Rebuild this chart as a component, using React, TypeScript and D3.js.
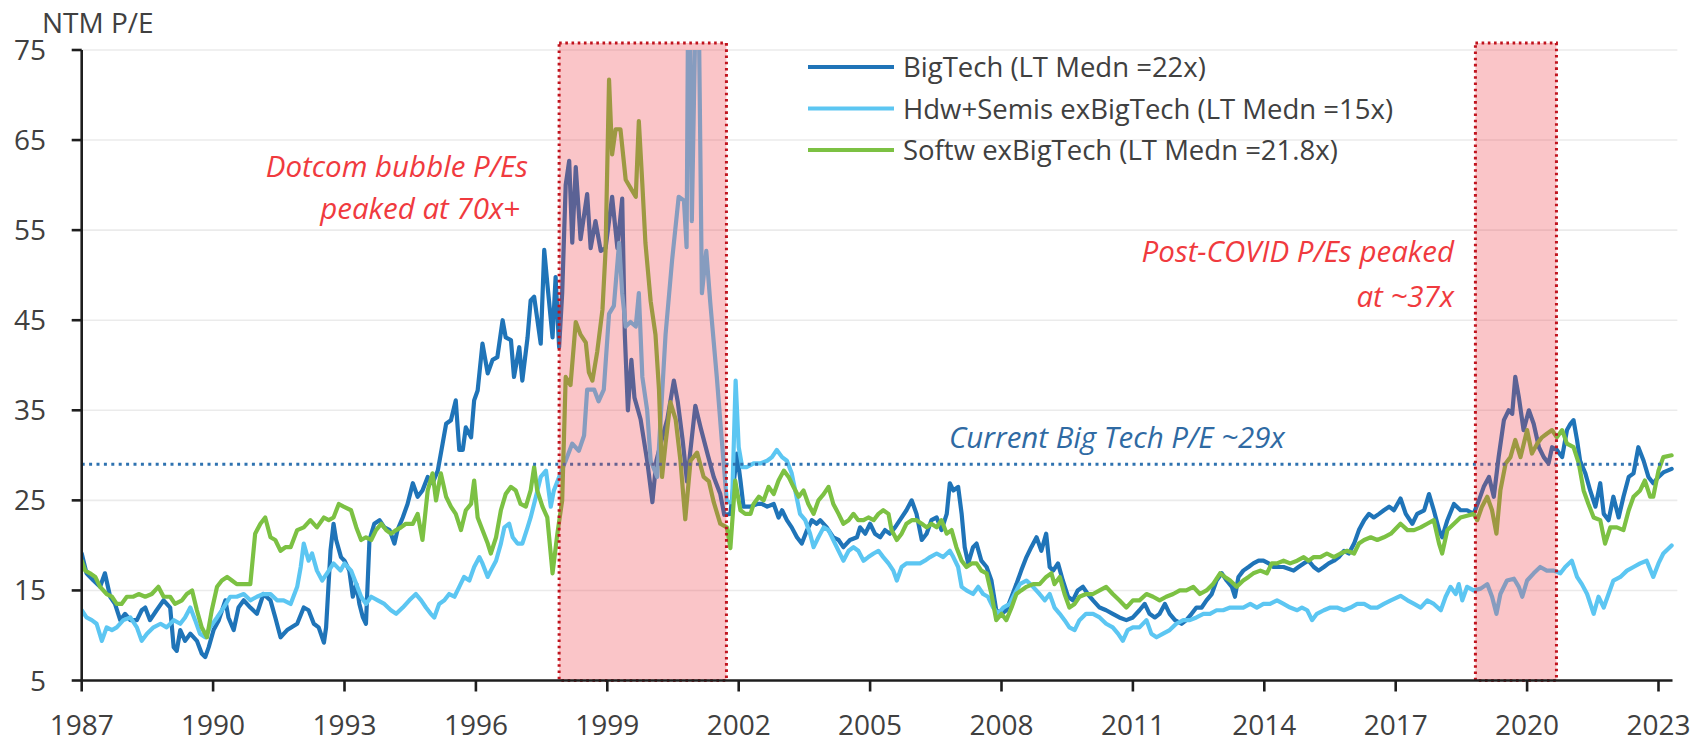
import React from 'react';
import * as d3 from 'd3';

type Pt = [number, number];

const W = 1707;
const H = 745;

const yearTicks = [1987, 1990, 1993, 1996, 1999, 2002, 2005, 2008, 2011, 2014, 2017, 2020, 2023];
const peTicks = [5, 15, 25, 35, 45, 55, 65, 75];
const seriesNames = [
  'BigTech (LT Medn =22x)',
  'Hdw+Semis exBigTech (LT Medn =15x)',
  'Softw exBigTech (LT Medn =21.8x)',
];
const seriesColors = ['#1f74b8', '#5cc6f2', '#7cc143'];
const currentBigTechPE = 29;
const shadedPeriods: Pt[] = [
  [1997.9, 2001.72],
  [2018.82, 2020.67],
];
const dotcomNote = ['Dotcom bubble P/Es', 'peaked at 70x+'];
const covidNote = ['Post-COVID P/Es peaked', 'at ~37x'];
const currentNote = 'Current Big Tech P/E ~29x';
const yTitle = 'NTM P/E';

const bigTech: Pt[] = [
  [1987.00, 19.1], [1987.11, 16.9], [1987.27, 16.1], [1987.42, 15.4], [1987.53, 16.9], [1987.65, 14.3], [1987.76, 13.5], [1987.88, 11.7], [1987.99, 12.4], [1988.11, 11.7], [1988.26, 11.7], [1988.37, 12.8], [1988.45, 13.1], [1988.56, 11.7], [1988.71, 12.8], [1988.87, 13.9], [1989.02, 13.1], [1989.10, 8.7], [1989.17, 8.3], [1989.25, 10.6], [1989.36, 9.4], [1989.48, 10.2], [1989.63, 9.4], [1989.74, 8.0], [1989.82, 7.6], [1989.90, 8.7], [1990.01, 10.6], [1990.13, 11.7], [1990.28, 13.9], [1990.35, 12.0], [1990.47, 10.6], [1990.58, 13.1], [1990.70, 13.9], [1990.85, 13.1], [1991.00, 12.4], [1991.15, 14.6], [1991.31, 13.9], [1991.42, 12.0], [1991.54, 9.8], [1991.69, 10.6], [1991.92, 11.3], [1992.07, 13.1], [1992.18, 12.8], [1992.30, 11.3], [1992.41, 10.9], [1992.53, 9.2], [1992.58, 10.9], [1992.68, 19.4], [1992.75, 22.4], [1992.81, 20.6], [1992.92, 18.7], [1993.00, 18.3], [1993.11, 17.2], [1993.19, 14.3], [1993.27, 15.7], [1993.34, 13.5], [1993.42, 12.0], [1993.49, 11.3], [1993.57, 20.6], [1993.68, 22.4], [1993.80, 22.8], [1993.91, 22.0], [1994.03, 21.7], [1994.14, 20.2], [1994.21, 21.7], [1994.33, 23.1], [1994.44, 24.6], [1994.56, 26.9], [1994.67, 25.4], [1994.78, 26.1], [1994.90, 27.6], [1995.01, 26.9], [1995.13, 28.3], [1995.24, 31.3], [1995.32, 33.5], [1995.43, 33.9], [1995.54, 36.1], [1995.62, 30.6], [1995.70, 30.6], [1995.77, 33.1], [1995.89, 32.0], [1995.96, 36.1], [1996.04, 37.2], [1996.15, 42.4], [1996.27, 39.1], [1996.38, 40.6], [1996.49, 40.9], [1996.61, 45.0], [1996.68, 43.1], [1996.80, 42.8], [1996.87, 38.7], [1996.99, 42.0], [1997.06, 38.3], [1997.18, 43.1], [1997.25, 47.2], [1997.33, 47.6], [1997.48, 42.4], [1997.56, 52.8], [1997.63, 49.1], [1997.75, 43.1], [1997.82, 49.8], [1997.90, 42.0],
  [1997.97, 48.0], [1998.05, 60.0], [1998.13, 62.7], [1998.20, 53.6], [1998.28, 62.0], [1998.39, 54.0], [1998.54, 59.0], [1998.62, 53.0], [1998.73, 56.0], [1998.85, 52.7], [1998.96, 53.0], [1999.11, 58.7], [1999.23, 53.0], [1999.34, 58.5], [1999.40, 43.4], [1999.47, 35.0], [1999.55, 40.6], [1999.62, 36.4], [1999.76, 34.0], [1999.91, 29.4], [2000.03, 24.8], [2000.12, 29.4], [2000.24, 31.7], [2000.37, 34.0], [2000.52, 38.3], [2000.61, 35.9], [2000.72, 31.7], [2000.82, 27.1], [2001.01, 35.5], [2001.13, 33.1], [2001.28, 30.3], [2001.43, 27.6], [2001.58, 25.7], [2001.67, 23.4], [2001.81, 23.5], [2001.96, 30.2], [2002.04, 27.2],
  [2002.11, 24.3], [2002.27, 24.3], [2002.42, 24.6], [2002.53, 24.6], [2002.65, 24.3], [2002.80, 24.6], [2002.91, 23.1], [2002.99, 23.9], [2003.10, 22.8], [2003.21, 22.0], [2003.33, 20.9], [2003.44, 20.2], [2003.56, 21.7], [2003.67, 22.8], [2003.78, 22.4], [2003.86, 22.8], [2004.01, 22.0], [2004.16, 20.9], [2004.28, 20.6], [2004.39, 19.8], [2004.54, 20.6], [2004.70, 20.9], [2004.77, 22.0], [2004.89, 21.3], [2005.00, 22.4], [2005.11, 21.3], [2005.23, 20.9], [2005.34, 21.7], [2005.45, 21.3], [2005.57, 22.0], [2005.68, 22.8], [2005.83, 23.9], [2005.95, 25.0], [2006.06, 23.5], [2006.18, 20.6], [2006.29, 21.3], [2006.40, 22.8], [2006.52, 23.1], [2006.63, 21.7], [2006.75, 23.5], [2006.82, 26.9], [2006.90, 26.1], [2007.01, 26.5], [2007.09, 23.5], [2007.16, 19.8], [2007.24, 18.0], [2007.35, 19.8], [2007.43, 20.2], [2007.54, 18.3], [2007.66, 17.6], [2007.77, 16.1], [2007.88, 12.8], [2008.00, 12.4], [2008.11, 12.8], [2008.23, 14.3], [2008.34, 15.7], [2008.45, 17.2], [2008.57, 18.7], [2008.68, 19.8], [2008.80, 20.9], [2008.91, 19.4], [2009.02, 21.3], [2009.10, 17.6], [2009.18, 17.2], [2009.29, 18.0], [2009.40, 16.1], [2009.52, 14.3], [2009.63, 13.9], [2009.74, 15.0], [2009.86, 15.4], [2009.97, 14.6], [2010.09, 13.9], [2010.24, 13.1], [2010.39, 12.8], [2010.54, 12.4], [2010.69, 12.0], [2010.85, 11.7], [2011.00, 12.0],
  [2011.15, 12.8], [2011.27, 13.5], [2011.38, 12.4], [2011.50, 12.0], [2011.61, 12.4], [2011.73, 13.5], [2011.84, 12.4], [2011.96, 11.7], [2012.11, 11.3], [2012.22, 11.7], [2012.34, 12.4], [2012.45, 13.1], [2012.57, 13.1], [2012.68, 13.9], [2012.80, 14.6], [2012.91, 16.1], [2013.03, 16.9], [2013.14, 16.1], [2013.26, 15.4], [2013.33, 14.3], [2013.41, 16.5], [2013.52, 17.2], [2013.64, 17.6], [2013.75, 18.0], [2013.87, 18.3], [2013.98, 18.3], [2014.10, 18.0], [2014.21, 17.6], [2014.44, 17.6], [2014.67, 17.2], [2014.78, 17.6], [2014.90, 18.0], [2015.01, 18.3], [2015.13, 17.6], [2015.24, 17.2], [2015.36, 17.6], [2015.47, 18.0], [2015.59, 18.3], [2015.70, 18.7], [2015.82, 19.4], [2015.93, 19.1], [2016.05, 20.2], [2016.16, 21.7], [2016.28, 22.8], [2016.39, 23.5], [2016.50, 23.1], [2016.62, 23.5], [2016.73, 23.9], [2016.85, 24.3], [2016.96, 23.9],
  [2017.11, 25.2], [2017.23, 23.5], [2017.38, 22.4], [2017.49, 23.5], [2017.65, 23.9], [2017.76, 25.7], [2017.87, 23.9], [2017.99, 21.7], [2018.06, 20.9], [2018.18, 22.8], [2018.33, 24.6], [2018.48, 23.9], [2018.63, 23.9], [2018.78, 23.5], [2018.90, 25.0], [2019.01, 26.5], [2019.13, 27.6], [2019.24, 25.4], [2019.35, 29.8], [2019.47, 33.9], [2019.58, 35.0], [2019.66, 34.6], [2019.73, 38.7], [2019.81, 36.5], [2019.92, 32.8], [2020.04, 35.0], [2020.15, 33.5], [2020.27, 30.9], [2020.38, 29.8], [2020.49, 29.1], [2020.57, 30.9], [2020.68, 30.6], [2020.80, 29.8], [2020.91, 32.8], [2020.99, 33.5], [2021.06, 33.9], [2021.14, 31.7], [2021.21, 29.4], [2021.33, 28.0], [2021.44, 26.1], [2021.56, 24.3], [2021.67, 26.9], [2021.75, 23.5], [2021.86, 22.8], [2021.97, 25.4], [2022.09, 23.1], [2022.20, 25.4], [2022.32, 27.6], [2022.43, 28.0], [2022.54, 30.9], [2022.66, 29.4], [2022.77, 27.6], [2022.88, 26.9], [2023.00, 27.6], [2023.11, 28.1], [2023.30, 28.5],
];

const hdwSemis: Pt[] = [
  [1987.00, 12.8], [1987.11, 12.0], [1987.23, 11.7], [1987.34, 11.3], [1987.46, 9.4], [1987.57, 10.9], [1987.69, 10.6], [1987.80, 10.9], [1987.95, 11.7], [1988.11, 12.0], [1988.26, 10.9], [1988.37, 9.4], [1988.49, 10.2], [1988.64, 10.9], [1988.80, 11.3], [1988.94, 10.9], [1989.10, 11.7], [1989.25, 11.3], [1989.36, 12.0], [1989.48, 13.1], [1989.59, 11.7], [1989.70, 10.2], [1989.82, 9.8], [1989.93, 10.9], [1990.09, 12.0], [1990.24, 13.1], [1990.39, 14.3], [1990.54, 14.3], [1990.70, 14.6], [1990.85, 13.9], [1991.00, 14.3], [1991.15, 14.6], [1991.31, 14.6], [1991.46, 13.9], [1991.61, 13.9], [1991.77, 13.5], [1991.92, 15.4], [1992.00, 17.6], [1992.07, 20.2], [1992.18, 18.3], [1992.26, 19.1], [1992.37, 17.2], [1992.49, 16.1], [1992.60, 16.9], [1992.75, 18.0], [1992.91, 17.2],
  [1993.00, 18.0], [1993.15, 17.2], [1993.27, 15.7], [1993.38, 14.3], [1993.49, 13.5], [1993.61, 14.3], [1993.76, 13.9], [1993.91, 13.5], [1994.06, 12.8], [1994.18, 12.4], [1994.33, 13.1], [1994.48, 13.9], [1994.63, 14.6], [1994.75, 13.9], [1994.86, 13.1], [1994.97, 12.4], [1995.05, 12.0], [1995.16, 13.5], [1995.28, 13.9], [1995.39, 14.6], [1995.51, 14.3], [1995.62, 15.4], [1995.73, 16.5], [1995.85, 16.1], [1995.96, 17.6], [1996.08, 18.7], [1996.15, 18.0], [1996.27, 16.5], [1996.34, 17.2], [1996.46, 18.3], [1996.57, 20.2], [1996.65, 22.0], [1996.76, 22.4], [1996.84, 20.9], [1996.95, 20.2], [1997.06, 20.2], [1997.18, 22.0], [1997.25, 23.1], [1997.37, 25.4], [1997.48, 27.6], [1997.60, 28.3], [1997.71, 24.3], [1997.78, 26.1], [1997.90, 27.6],
  [1998.05, 29.4], [1998.20, 31.3], [1998.35, 30.5], [1998.47, 32.2], [1998.54, 37.3], [1998.70, 37.3], [1998.80, 36.0], [1998.92, 37.3], [1999.04, 45.7], [1999.15, 46.6], [1999.27, 53.6], [1999.34, 48.0], [1999.42, 44.3], [1999.53, 44.8], [1999.65, 44.3], [1999.72, 48.0], [1999.80, 38.7], [1999.91, 35.0], [1999.99, 29.4], [2000.14, 27.6], [2000.33, 43.4], [2000.48, 51.7], [2000.63, 58.7], [2000.75, 58.3], [2000.81, 53.1], [2000.86, 92.0], [2000.93, 56.0], [2001.06, 92.0], [2001.16, 48.0], [2001.26, 52.7], [2001.35, 47.0], [2001.50, 38.7], [2001.62, 31.3], [2001.73, 24.8], [2001.85, 24.8], [2001.93, 38.3], [2002.00, 30.9],
  [2002.08, 28.7], [2002.19, 28.7], [2002.34, 29.1], [2002.49, 29.1], [2002.65, 29.4], [2002.76, 29.8], [2002.87, 30.6], [2002.99, 29.8], [2003.10, 29.4], [2003.21, 28.0], [2003.29, 26.1], [2003.40, 23.5], [2003.52, 22.8], [2003.63, 21.3], [2003.71, 19.8], [2003.82, 20.9], [2003.94, 22.0], [2004.05, 21.7], [2004.16, 20.6], [2004.28, 19.4], [2004.39, 18.3], [2004.51, 19.4], [2004.62, 19.8], [2004.73, 19.4], [2004.85, 18.3], [2004.96, 18.7], [2005.08, 19.1], [2005.19, 19.4], [2005.30, 18.7], [2005.42, 18.0], [2005.53, 17.2], [2005.61, 16.1], [2005.72, 17.6], [2005.83, 18.0], [2005.99, 18.0], [2006.14, 18.0], [2006.25, 18.3], [2006.37, 18.7], [2006.52, 19.1], [2006.67, 18.7], [2006.82, 19.4], [2006.90, 18.7], [2007.01, 17.6], [2007.09, 15.4], [2007.20, 15.0], [2007.35, 14.6], [2007.47, 15.4], [2007.58, 14.6], [2007.69, 14.3], [2007.81, 13.1], [2007.92, 12.4], [2008.04, 13.1], [2008.19, 13.5], [2008.30, 14.6], [2008.42, 15.7], [2008.57, 16.1], [2008.72, 15.4], [2008.87, 14.6], [2008.99, 13.9], [2009.10, 14.6], [2009.21, 13.1], [2009.33, 12.4], [2009.44, 11.7], [2009.55, 10.9], [2009.67, 10.6], [2009.78, 11.7], [2009.93, 12.4], [2010.09, 12.4], [2010.24, 12.0], [2010.39, 11.3], [2010.54, 10.9], [2010.66, 10.2], [2010.77, 9.4], [2010.88, 10.6], [2011.00, 10.9],
  [2011.15, 10.9], [2011.31, 11.7], [2011.42, 10.2], [2011.54, 9.8], [2011.69, 10.2], [2011.84, 10.6], [2011.99, 11.3], [2012.15, 11.7], [2012.30, 11.7], [2012.45, 12.0], [2012.61, 12.4], [2012.76, 12.4], [2012.91, 12.8], [2013.06, 12.8], [2013.22, 13.1], [2013.37, 13.1], [2013.52, 13.1], [2013.68, 13.5], [2013.83, 13.1], [2013.98, 13.5], [2014.13, 13.5], [2014.29, 13.9], [2014.44, 13.5], [2014.59, 13.1], [2014.75, 12.8], [2014.86, 13.1], [2014.98, 12.8], [2015.09, 11.7], [2015.20, 12.4], [2015.36, 12.8], [2015.51, 13.1], [2015.66, 13.1], [2015.82, 12.8], [2015.97, 13.1], [2016.12, 13.5], [2016.28, 13.5], [2016.43, 13.1], [2016.58, 13.1], [2016.73, 13.5], [2016.89, 13.9],
  [2017.11, 14.4], [2017.27, 13.9], [2017.42, 13.5], [2017.57, 13.1], [2017.72, 13.9], [2017.87, 13.5], [2018.03, 12.8], [2018.14, 14.3], [2018.25, 15.4], [2018.37, 14.6], [2018.44, 15.7], [2018.52, 13.9], [2018.63, 15.4], [2018.78, 15.0], [2018.94, 15.2], [2019.09, 15.7], [2019.20, 14.3], [2019.30, 12.4], [2019.39, 14.6], [2019.54, 16.1], [2019.70, 16.3], [2019.81, 15.4], [2019.89, 14.3], [2020.00, 16.1], [2020.15, 16.9], [2020.30, 17.6], [2020.45, 17.2], [2020.61, 17.2], [2020.76, 16.9], [2020.87, 17.6], [2021.02, 18.3], [2021.14, 16.5], [2021.25, 15.7], [2021.37, 14.6], [2021.52, 12.4], [2021.63, 14.3], [2021.75, 13.1], [2021.86, 14.6], [2021.97, 16.1], [2022.13, 16.5], [2022.28, 17.2], [2022.43, 17.6], [2022.58, 18.0], [2022.73, 18.3], [2022.88, 16.5], [2023.00, 18.0], [2023.11, 19.1], [2023.30, 20.0],
];

const softw: Pt[] = [
  [1987.00, 18.3], [1987.08, 17.2], [1987.19, 16.9], [1987.31, 16.5], [1987.42, 15.4], [1987.57, 14.6], [1987.69, 14.3], [1987.80, 13.5], [1987.91, 13.5], [1988.03, 14.3], [1988.18, 14.3], [1988.30, 14.6], [1988.45, 14.3], [1988.60, 14.6], [1988.75, 15.4], [1988.87, 14.3], [1989.02, 14.3], [1989.13, 13.5], [1989.29, 13.9], [1989.40, 14.6], [1989.52, 15.0], [1989.63, 12.8], [1989.74, 10.9], [1989.86, 9.8], [1989.97, 12.8], [1990.09, 15.4], [1990.20, 16.1], [1990.32, 16.5], [1990.43, 16.1], [1990.54, 15.7], [1990.70, 15.7], [1990.85, 15.7], [1990.96, 21.3], [1991.08, 22.4], [1991.19, 23.1], [1991.31, 20.9], [1991.42, 20.6], [1991.54, 19.4], [1991.65, 19.8], [1991.77, 19.8], [1991.92, 21.7], [1992.07, 22.0], [1992.22, 22.8], [1992.37, 22.0], [1992.53, 23.1], [1992.64, 22.8], [1992.75, 23.1], [1992.87, 24.6], [1992.98, 24.3],
  [1993.15, 23.9], [1993.27, 22.0], [1993.38, 20.6], [1993.49, 20.9], [1993.61, 20.6], [1993.72, 21.7], [1993.84, 22.4], [1993.95, 21.7], [1994.06, 21.3], [1994.18, 21.7], [1994.29, 22.0], [1994.40, 22.4], [1994.56, 22.4], [1994.67, 23.5], [1994.78, 20.6], [1994.90, 26.1], [1995.01, 28.0], [1995.09, 25.0], [1995.20, 28.0], [1995.32, 25.4], [1995.43, 24.3], [1995.54, 23.5], [1995.66, 21.7], [1995.77, 23.9], [1995.89, 24.6], [1995.96, 27.2], [1996.04, 23.1], [1996.15, 21.7], [1996.27, 20.2], [1996.34, 19.1], [1996.46, 20.9], [1996.57, 23.9], [1996.68, 25.7], [1996.80, 26.5], [1996.91, 26.1], [1997.02, 24.6], [1997.14, 24.3], [1997.25, 26.1], [1997.33, 28.7], [1997.40, 26.1], [1997.52, 24.3], [1997.63, 23.1], [1997.75, 16.9], [1997.86, 21.3],
  [1997.97, 25.0], [1998.05, 38.7], [1998.16, 37.8], [1998.28, 44.8], [1998.39, 43.4], [1998.51, 42.5], [1998.58, 39.2], [1998.66, 38.3], [1998.77, 41.5], [1998.89, 46.2], [1998.96, 52.7], [1999.04, 71.7], [1999.11, 63.4], [1999.19, 66.2], [1999.30, 66.2], [1999.42, 60.6], [1999.53, 59.7], [1999.65, 58.7], [1999.72, 67.1], [1999.80, 60.1], [1999.87, 53.6], [1999.99, 47.1], [2000.10, 43.4], [2000.18, 37.3], [2000.25, 27.6], [2000.33, 31.3], [2000.44, 35.9], [2000.56, 34.0], [2000.67, 29.4], [2000.78, 22.9], [2000.90, 29.4], [2001.05, 30.3], [2001.20, 27.6], [2001.32, 27.1], [2001.43, 24.8], [2001.58, 22.4], [2001.73, 22.0], [2001.81, 19.7], [2001.92, 27.2], [2002.04, 23.9],
  [2002.15, 23.5], [2002.27, 23.5], [2002.34, 24.6], [2002.46, 25.4], [2002.57, 25.0], [2002.68, 26.5], [2002.80, 25.7], [2002.91, 27.2], [2003.03, 28.3], [2003.14, 27.6], [2003.25, 26.5], [2003.37, 25.4], [2003.48, 26.1], [2003.59, 24.6], [2003.71, 23.5], [2003.82, 25.0], [2003.94, 25.7], [2004.05, 26.5], [2004.16, 24.6], [2004.28, 23.5], [2004.39, 22.4], [2004.51, 22.8], [2004.62, 23.5], [2004.73, 22.8], [2004.85, 22.8], [2004.96, 23.1], [2005.08, 22.8], [2005.19, 23.5], [2005.30, 23.9], [2005.42, 23.5], [2005.49, 21.7], [2005.61, 20.6], [2005.72, 21.3], [2005.83, 22.4], [2005.95, 22.8], [2006.06, 22.8], [2006.18, 22.4], [2006.29, 22.0], [2006.40, 22.4], [2006.52, 22.0], [2006.63, 22.8], [2006.75, 21.3], [2006.86, 21.7], [2006.97, 19.8], [2007.09, 18.3], [2007.20, 17.6], [2007.32, 18.0], [2007.43, 18.0], [2007.54, 17.2], [2007.66, 16.9], [2007.77, 14.6], [2007.88, 11.7], [2008.00, 12.4], [2008.11, 11.7], [2008.23, 13.1], [2008.34, 14.6], [2008.45, 15.0], [2008.57, 15.4], [2008.72, 15.7], [2008.87, 15.7], [2009.02, 16.5], [2009.14, 16.9], [2009.21, 15.7], [2009.33, 16.5], [2009.44, 14.6], [2009.55, 13.1], [2009.67, 13.5], [2009.78, 14.3], [2009.93, 14.6], [2010.09, 14.6], [2010.24, 15.0], [2010.39, 15.4], [2010.54, 14.6], [2010.69, 13.9], [2010.85, 13.1], [2011.00, 13.9],
  [2011.15, 13.9], [2011.31, 14.6], [2011.46, 14.3], [2011.61, 13.9], [2011.76, 14.3], [2011.92, 14.6], [2012.07, 15.0], [2012.22, 15.0], [2012.38, 15.4], [2012.53, 14.6], [2012.68, 15.0], [2012.83, 15.7], [2012.99, 16.9], [2013.10, 16.5], [2013.22, 16.1], [2013.37, 15.4], [2013.52, 16.1], [2013.64, 16.5], [2013.75, 16.9], [2013.91, 17.2], [2014.06, 16.9], [2014.17, 18.0], [2014.29, 18.0], [2014.44, 18.3], [2014.59, 18.0], [2014.75, 18.3], [2014.90, 18.7], [2015.01, 18.3], [2015.13, 18.7], [2015.28, 18.7], [2015.43, 19.1], [2015.59, 18.7], [2015.74, 19.1], [2015.89, 19.4], [2016.05, 19.1], [2016.16, 20.2], [2016.28, 20.6], [2016.43, 20.9], [2016.58, 20.6], [2016.73, 20.9], [2016.89, 21.3],
  [2017.11, 22.4], [2017.27, 21.7], [2017.42, 21.7], [2017.57, 22.0], [2017.72, 22.4], [2017.87, 22.8], [2017.99, 20.2], [2018.06, 19.1], [2018.18, 21.7], [2018.33, 22.4], [2018.48, 23.1], [2018.63, 23.3], [2018.78, 23.5], [2018.86, 22.8], [2018.97, 24.3], [2019.09, 25.4], [2019.20, 23.9], [2019.30, 21.3], [2019.39, 26.1], [2019.51, 29.1], [2019.62, 29.8], [2019.73, 31.7], [2019.85, 29.8], [2020.00, 32.8], [2020.11, 30.2], [2020.23, 31.3], [2020.34, 32.0], [2020.45, 32.4], [2020.57, 32.8], [2020.68, 32.0], [2020.80, 32.8], [2020.91, 31.3], [2021.06, 30.9], [2021.18, 29.1], [2021.29, 26.1], [2021.40, 24.6], [2021.52, 23.1], [2021.67, 22.8], [2021.78, 20.2], [2021.90, 22.0], [2022.05, 22.0], [2022.20, 21.7], [2022.32, 23.9], [2022.43, 25.4], [2022.58, 26.1], [2022.69, 27.2], [2022.81, 25.4], [2022.88, 25.4], [2023.00, 28.3], [2023.11, 29.8], [2023.30, 30.0],
];

const allSeries = [bigTech, hdwSemis, softw];

const FONT = "'Open Sans', 'Noto Sans', sans-serif";

export default function App() {
  const x = d3.scaleLinear().domain([1987, 2023]).range([81.7, 1658.5]);
  const y = d3.scaleLinear().domain([5, 75]).range([680.5, 50]);
  const line = d3
    .line<Pt>()
    .x((d) => x(d[0]))
    .y((d) => y(d[1]));

  const plotLeft = x(1987);
  const axisRight = x(2023.32);
  const gridRight = x(2023.43);
  const yBottom = y(5);
  const yTop = y(75);
  const boxTop = yTop - 7;

  return (
    <svg
      width={W}
      height={H}
      viewBox={`0 0 ${W} ${H}`}
      style={{ position: 'absolute', left: 0, top: 0, display: 'block', background: '#fff' }}
      fontFamily={FONT}
    >
      <defs>
        <clipPath id="plotClip">
          <rect x={plotLeft} y={yTop} width={gridRight - plotLeft + 20} height={yBottom - yTop} />
        </clipPath>
      </defs>

      {/* gridlines */}
      {peTicks
        .filter((t) => t > 5)
        .map((t) => (
          <line key={t} x1={plotLeft} x2={gridRight} y1={y(t)} y2={y(t)} stroke="#ebebeb" strokeWidth={1.6} />
        ))}

      {/* series */}
      <g clipPath="url(#plotClip)">
        {allSeries.map((s, i) => (
          <path
            key={i}
            d={line(s) || ''}
            fill="none"
            stroke={seriesColors[i]}
            strokeWidth={4.2}
            strokeLinejoin="round"
            strokeLinecap="round"
          />
        ))}
      </g>

      {/* current P/E dotted line */}
      <line
        x1={plotLeft}
        x2={axisRight}
        y1={y(currentBigTechPE)}
        y2={y(currentBigTechPE)}
        stroke="#2e72b0"
        strokeWidth={3}
        strokeDasharray="3 4.4"
      />

      {/* shaded periods */}
      {shadedPeriods.map(([a, b], i) => (
        <g key={i}>
          <rect x={x(a)} y={boxTop} width={x(b) - x(a)} height={yBottom - boxTop} fill="rgb(238,55,66)" fillOpacity={0.29} />
          <rect
            x={x(a)}
            y={boxTop}
            width={x(b) - x(a)}
            height={yBottom - boxTop}
            fill="none"
            stroke="#c0141e"
            strokeWidth={3}
            strokeDasharray="2.6 3.6"
          />
        </g>
      ))}

      {/* axes */}
      <line x1={plotLeft} x2={plotLeft} y1={yTop} y2={yBottom} stroke="#1e1e1e" strokeWidth={2.6} />
      <line x1={plotLeft - 1} x2={axisRight} y1={yBottom} y2={yBottom} stroke="#1e1e1e" strokeWidth={2.6} />
      {peTicks.map((t) => (
        <g key={t}>
          <line x1={plotLeft - 10} x2={plotLeft} y1={y(t)} y2={y(t)} stroke="#1e1e1e" strokeWidth={2.6} />
          <text x={46} y={y(t) + 10} textAnchor="end" fontSize={28} fill="#404040">
            {t}
          </text>
        </g>
      ))}
      {yearTicks.map((t) => (
        <g key={t}>
          <line x1={x(t)} x2={x(t)} y1={yBottom} y2={yBottom + 11} stroke="#1e1e1e" strokeWidth={2.6} />
          <text x={x(t)} y={735} textAnchor="middle" fontSize={28} fill="#404040">
            {t}
          </text>
        </g>
      ))}
      <text x={42} y={33} fontSize={28} fill="#404040">
        {yTitle}
      </text>

      {/* legend */}
      {seriesNames.map((n, i) => (
        <g key={n}>
          <line x1={808} x2={894} y1={67 + i * 41.5} y2={67 + i * 41.5} stroke={seriesColors[i]} strokeWidth={4.2} />
          <text x={903} y={67 + i * 41.5 + 10} fontSize={27.5} fill="#404040">
            {n}
          </text>
        </g>
      ))}

      {/* annotations */}
      <g fontStyle="italic" fontSize={29.5} fill="#f03a3e" textAnchor="end">
        <text x={528} y={177}>{dotcomNote[0]}</text>
        <text x={520} y={219}>{dotcomNote[1]}</text>
        <text x={1454} y={262}>{covidNote[0]}</text>
        <text x={1454} y={307}>{covidNote[1]}</text>
      </g>
      <text x={949} y={448} fontStyle="italic" fontSize={29.5} fill="#2f6aa3">
        {currentNote}
      </text>
    </svg>
  );
}
